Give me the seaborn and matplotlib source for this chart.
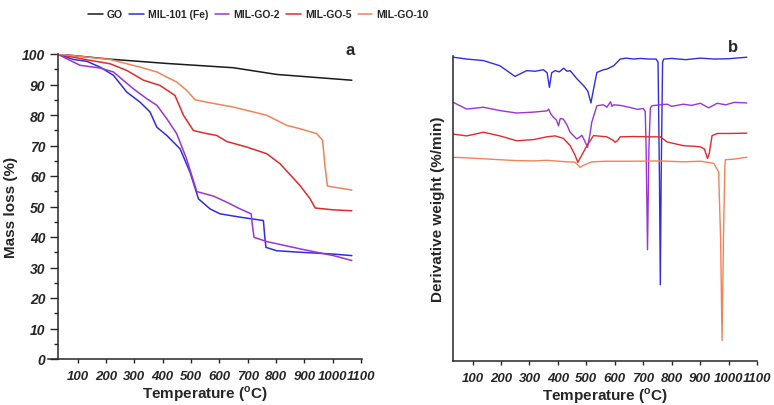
import numpy as np
import pandas as pd
import matplotlib
matplotlib.use("Agg")
import matplotlib.pyplot as plt
import seaborn as sns

# %%
# TGA curves (panel a): temperature (C) vs mass (%)
go_t = [28, 214, 414, 649, 802, 1067]
go_m = [100, 98.3, 96.9, 95.5, 93.3, 91.4]

mil_t = [28, 85, 132, 179, 226, 273, 320, 355, 379, 414, 461, 496, 526, 567, 602, 673, 755, 760, 764, 802, 885, 1002, 1067]
mil_m = [100, 98.2, 97.6, 95.7, 93.0, 87.5, 84.2, 81.0, 76.0, 73.3, 68.9, 61.3, 52.5, 49.2, 47.6, 46.5, 45.4, 40.0, 36.6, 35.5, 35.0, 34.4, 33.9]

go2_t = [28, 73, 108, 179, 226, 296, 344, 379, 414, 449, 484, 520, 579, 626, 673, 712, 716, 722, 767, 885, 1002, 1067]
go2_m = [100, 97.9, 96.3, 95.4, 94.1, 88.6, 85.3, 83.2, 78.8, 73.9, 65.6, 54.9, 53.4, 51.4, 49.2, 47.6, 44.0, 39.9, 38.5, 36.1, 33.9, 32.3]

go5_t = [28, 132, 214, 273, 332, 390, 443, 473, 508, 555, 590, 626, 696, 767, 814, 884, 920, 938, 1002, 1067]
go5_m = [100, 98.1, 96.8, 94.6, 91.4, 89.7, 86.4, 79.9, 74.9, 73.9, 73.3, 71.3, 69.5, 67.3, 64.0, 56.9, 52.5, 49.5, 48.9, 48.6]

go10_t = [28, 214, 320, 379, 449, 484, 514, 555, 649, 767, 837, 884, 943, 964, 972, 981, 1067]
go10_m = [100, 98.2, 95.7, 94.1, 90.8, 88.1, 85.0, 84.2, 82.6, 79.9, 76.6, 75.5, 73.9, 71.7, 63.5, 56.7, 55.4]

# DTG curves (panel b): temperature vs derivative weight (arbitrary, offset)
d_mil_t = [32, 79, 138, 196, 249, 290, 320, 349, 362, 370, 378, 390, 405, 420, 432, 443, 467, 490, 505, 516, 525, 537, 560, 572,
           596, 619, 640, 666, 690, 720, 745, 752, 757, 760, 763, 768, 772, 800, 850, 900, 950, 1000, 1064]
d_mil_v = [99.6, 99.0, 98.5, 96.8, 93.3, 95.2, 95.0, 95.5, 94.5, 89.7, 94.5, 95.2, 94.8, 96.0, 95.0, 95.2, 92.5, 90.3, 88.5, 84.6, 89.0, 94.6, 95.5, 95.7,
           96.8, 99.0, 99.3, 99.0, 99.2, 99.0, 99.0, 98.0, 60.0, 25.0, 60.0, 98.0, 99.0, 99.2, 98.8, 99.3, 99.0, 99.1, 99.6]

d_go2_t = [32, 79, 138, 196, 255, 314, 361, 367, 375, 384, 395, 402, 408, 419, 431, 443, 466, 478, 484, 495, 504, 512, 519, 537, 560, 572,
           585, 590, 596, 620, 650, 680, 700, 707, 710, 715, 720, 725, 731, 760, 784, 800, 842, 870, 901, 930, 960, 990, 1020, 1064]
d_go2_v = [84.8, 82.6, 83.2, 82.1, 81.3, 81.6, 82.0, 82.6, 81.0, 79.9, 79.0, 77.1, 79.5, 79.3, 77.5, 75.0, 72.8, 73.5, 74.0, 72.0, 70.1, 74.0, 78.3, 83.7, 84.0, 83.2,
           85.0, 83.5, 84.0, 83.8, 83.2, 82.5, 82.8, 81.8, 70.0, 36.5, 70.0, 83.0, 83.7, 84.0, 84.2, 83.5, 84.2, 83.8, 84.5, 83.0, 84.5, 84.0, 84.8, 84.6]

d_go5_t = [32, 79, 138, 196, 255, 314, 361, 390, 419, 443, 460, 470, 478, 502, 525, 572, 595, 601, 610, 619, 666, 720, 760, 784,
           842, 880, 901, 915, 926, 932, 942, 960, 1000, 1064]
d_go5_v = [74.4, 73.8, 75.0, 73.8, 72.2, 72.6, 73.5, 73.8, 73.0, 70.6, 67.5, 65.1, 66.5, 70.6, 73.9, 73.5, 72.3, 71.7, 72.3, 73.5, 73.6, 73.5, 73.5, 71.8,
           70.6, 70.4, 70.2, 69.5, 66.4, 68.0, 73.9, 74.6, 74.6, 74.7]

d_go10_t = [32, 100, 196, 255, 314, 361, 431, 460, 478, 490, 519, 572, 666, 760, 842, 901, 948, 965, 972, 977, 982, 987, 989, 1020, 1064]
d_go10_v = [66.8, 66.5, 66.0, 65.7, 65.6, 65.8, 65.3, 65.2, 63.5, 64.2, 65.3, 65.5, 65.5, 65.6, 65.3, 65.5, 64.8, 62.0, 40.0, 6.7, 40.0, 64.0, 66.0, 66.2, 66.8]

names = ["GO", "MIL-101 (Fe)", "MIL-GO-2", "MIL-GO-5", "MIL-GO-10"]
colors = ["#1a1a1a", "#2e2ee0", "#9a35d2", "#e02a2e", "#f2825a"]

# %%
sns.set_style("ticks")
plt.rcParams["font.family"] = ["Liberation Sans", "DejaVu Sans"]
plt.rcParams["mathtext.fontset"] = "custom"
plt.rcParams["mathtext.rm"] = "Liberation Sans:bold"
plt.rcParams["mathtext.bf"] = "Liberation Sans:bold"

fig = plt.figure(figsize=(7.74, 4.06), dpi=100)
ax1 = fig.add_axes([48 / 774, 46 / 406, 314 / 774, 305 / 406])
ax2 = fig.add_axes([453 / 774, 44 / 406, 304 / 774, 305 / 406])

tga = [(go_t, go_m), (mil_t, mil_m), (go2_t, go2_m), (go5_t, go5_m), (go10_t, go10_m)]
for (t, m), name, c in zip(tga, names, colors):
    df = pd.DataFrame({"T": t, "m": m})
    sns.lineplot(data=df, x="T", y="m", ax=ax1, color=c, lw=1.1, sort=False, estimator=None, label=name)

dtg = [(d_mil_t, d_mil_v), (d_go2_t, d_go2_v), (d_go5_t, d_go5_v), (d_go10_t, d_go10_v)]
for (t, v), c in zip(dtg, colors[1:]):
    df = pd.DataFrame({"T": t, "v": v})
    sns.lineplot(data=df, x="T", y="v", ax=ax2, color=c, lw=1.0, sort=False, estimator=None)

xlab = "Temperature ($^{\\mathrm{o}}$C)"

# panel a axes
ax1.set_xlim(-5, 1103)
ax1.set_ylim(0, 100)
ax1.spines["left"].set_position(("data", 30))
ax1.spines["right"].set_visible(False)
ax1.spines["top"].set_visible(False)
ax1.set_xticks(range(100, 1101, 100))
ax1.set_yticks(range(0, 101, 10))
ax1.set_yticks(range(5, 100, 10), minor=True)
ax1.tick_params(axis="y", which="major", length=6, width=1, pad=3)
ax1.tick_params(axis="y", which="minor", length=3, width=1)
ax1.tick_params(axis="x", length=3, width=1, pad=5)
ax1.set_xlabel(xlab, fontsize=11, fontweight="bold", labelpad=1)
ax1.set_ylabel("Mass loss (%)", fontsize=11, fontweight="bold", labelpad=3)
ax1.text(1060, 99, "a", fontsize=12, fontweight="bold", ha="center", va="bottom")
ax1.get_legend().remove()

# panel b axes
ax2.set_xlim(31, 1100)
ax2.set_ylim(0, 100)
ax2.spines["right"].set_visible(False)
ax2.spines["top"].set_visible(False)
ax2.set_xticks(range(100, 1101, 100))
ax2.set_yticks([])
ax2.tick_params(axis="x", length=3, width=1, pad=5)
ax2.set_xlabel(xlab, fontsize=11, fontweight="bold", labelpad=1)
ax2.set_ylabel("Derivative weight (%/min)", fontsize=11, fontweight="bold", labelpad=6)
ax2.text(1016, 100.5, "b", fontsize=12, fontweight="bold", ha="center", va="bottom")

for ax in (ax1, ax2):
    for sp in ax.spines.values():
        sp.set_linewidth(1.1)
    for lab in ax.get_xticklabels():
        lab.set_fontsize(9.5)
        lab.set_fontweight("bold")
        lab.set_fontstyle("italic")
    for lab in ax.get_yticklabels():
        lab.set_fontsize(10)
        lab.set_fontweight("bold")
        lab.set_fontstyle("italic")

handles, labels = ax1.get_legend_handles_labels()
fig.legend(handles, labels, loc="center", bbox_to_anchor=(0.334, 0.962), ncol=5, frameon=False,
           prop={"weight": "bold", "size": 7.5},
           handlelength=1.4, handletextpad=0.4, columnspacing=0.6)

fig.savefig("out.png", dpi=100)
